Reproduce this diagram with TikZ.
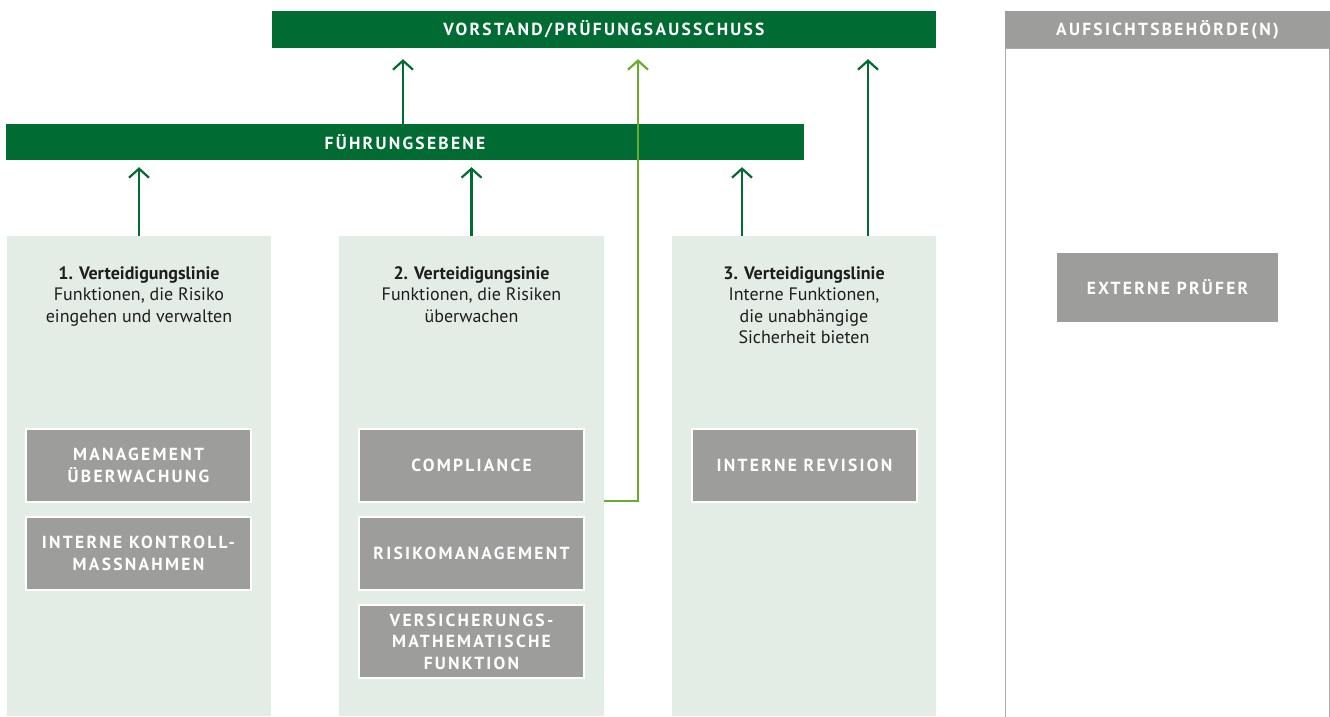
\documentclass[tikz,border=0pt]{standalone}
\usepackage{fontspec}
\setmainfont{PT Sans}
\newfontfamily\capsfont[LetterSpace=13]{PT Sans}
\usetikzlibrary{arrows.meta,calc}
\definecolor{dkgreen}{RGB}{0,107,50}
\definecolor{ltgreen}{RGB}{106,170,46}
\definecolor{colfill}{RGB}{227,236,229}
\definecolor{boxgray}{RGB}{157,157,156}
\definecolor{txt}{RGB}{30,30,30}
\definecolor{frame}{RGB}{170,170,170}
\tikzset{
  bar/.style={fill=dkgreen, draw=none, inner sep=0pt, text=white,
    font=\capsfont\bfseries\fontsize{17.5}{21}\selectfont},
  graybar/.style={fill=boxgray, draw=none, inner sep=0pt, text=white,
    font=\capsfont\bfseries\fontsize{17.5}{21}\selectfont},
  column/.style={fill=colfill, draw=none, inner sep=0pt},
  fbox/.style={fill=boxgray, draw=white, line width=2pt, inner sep=0pt,
    minimum width=225pt, minimum height=73pt, align=center, text=white,
    font=\capsfont\bfseries\fontsize{17.5}{21.5}\selectfont},
  desc/.style={align=center, inner sep=0pt, anchor=north, text=txt,
    font=\fontsize{18}{21.5}\selectfont},
  arr/.style={draw=dkgreen, line width=2.4pt,
    -{Straight Barb[length=9pt,width=20pt,line width=2.2pt]}},
  larr/.style={draw=ltgreen, line width=2.4pt,
    -{Straight Barb[length=9pt,width=20pt,line width=2.2pt]}},
}
\begin{document}
\begin{tikzpicture}[x=1pt,y=-1pt]
\useasboundingbox[fill=white] (0,0) rectangle (1330,716);
\begin{scope}
\clip (0,0) rectangle (1330,716);

% top bars
\node[bar, minimum width=664pt, minimum height=37pt] (vorstand) at (604,29.5) {VORSTAND/PRÜFUNGSAUSSCHUSS};
\node[bar, minimum width=798pt, minimum height=36pt] (fuehrung) at (405,142) {FÜHRUNGSEBENE};

% supervisory column
\node[graybar, minimum width=325pt, minimum height=37pt] (aufsicht) at (1167.5,29.5) {AUFSICHTSBEHÖRDE(N)};
\node[draw=frame, line width=1pt, fill=white, inner sep=0pt, minimum width=324pt, minimum height=676pt] (aufcol) at (1167.5,386) {};
\node[graybar, minimum width=221pt, minimum height=69pt] (extern) at (1167.5,287.5) {EXTERNE PRÜFER};

% columns
\node[column, minimum width=264pt, minimum height=480pt] (col1) at (139,476) {};
\node[column, minimum width=265pt, minimum height=480pt] (col2) at (471.5,476) {};
\node[column, minimum width=264pt, minimum height=480pt] (col3) at (804,476) {};

% column descriptions
\node[desc] (d1) at (139,266) {\textbf{1. Verteidigungslinie}\\Funktionen, die Risiko\\eingehen und verwalten};
\node[desc] (d2) at (471.5,266) {\textbf{2. Verteidigungsinie}\\Funktionen, die Risiken\\überwachen};
\node[desc] (d3) at (804,266) {\textbf{3. Verteidigungslinie}\\Interne Funktionen,\\die unabhängige\\Sicherheit bieten};

% function boxes
\node[fbox] (mgmt) at (138.5,465.5) {MANAGEMENT\\ÜBERWACHUNG};
\node[fbox] (iks) at (138.5,553.5) {INTERNE KONTROLL-\\MASSNAHMEN};
\node[fbox] (compl) at (471.5,465.5) {COMPLIANCE};
\node[fbox] (risk) at (471.5,553.5) {RISIKOMANAGEMENT};
\node[fbox] (vmf) at (471.5,641.5) {VERSICHERUNGS-\\MATHEMATISCHE\\FUNKTION};
\node[fbox] (rev) at (804.5,465.5) {INTERNE REVISION};

% arrows
\draw[arr, shorten >=7pt] (col1.north) -- (col1.north |- fuehrung.south);
\draw[arr, shorten >=7pt] (col2.north) -- (col2.north |- fuehrung.south);
\draw[arr, shorten >=7pt] ([xshift=-62pt]col3.north) -- ([xshift=-62pt]col3.north |- fuehrung.south);
\draw[arr, shorten >=11pt] ([xshift=64pt]col3.north) -- ([xshift=64pt]col3.north |- vorstand.south);
\draw[arr, shorten >=11pt] ([xshift=-2pt]fuehrung.north) -- ([xshift=-2pt]fuehrung.north |- vorstand.south);
\draw[larr, shorten >=11pt] ([yshift=2pt]compl.south -| col2.east) -| ([xshift=34pt]vorstand.south);
\end{scope}
\end{tikzpicture}
\end{document}
